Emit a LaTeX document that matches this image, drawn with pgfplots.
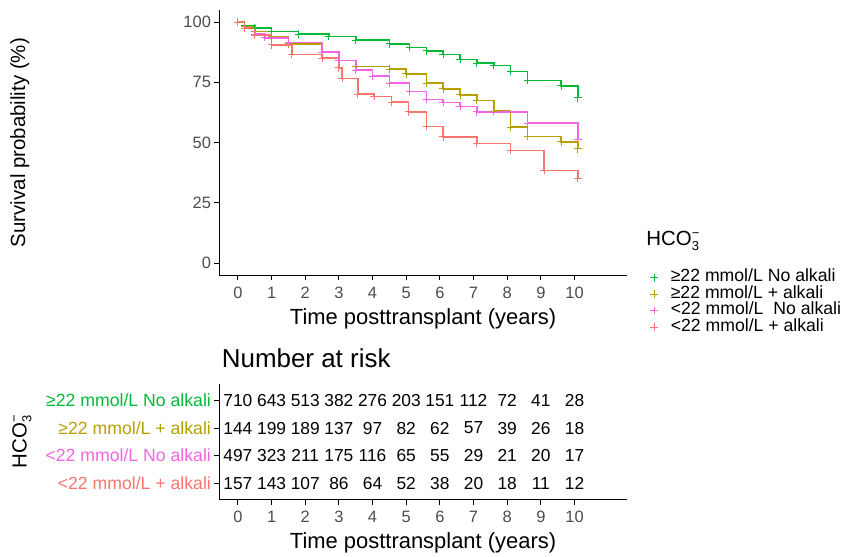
\documentclass[border=0pt]{standalone}
\usepackage{fontspec}
\setmainfont{Liberation Sans}
\usepackage{pgfplots}
\pgfplotsset{compat=1.18}
\usepackage{pgfplotstable}

\definecolor{cG}{HTML}{00BA38}
\definecolor{cO}{HTML}{B79F00}
\definecolor{cP}{HTML}{F564E3}
\definecolor{cR}{HTML}{F8766D}
\definecolor{tickgray}{HTML}{4D4D4D}

% HCO3- with stacked sub/superscript, size given as argument
\newcommand\hco[1]{HCO\makebox[0pt][l]{\raisebox{0.75ex}{\fontsize{#1}{#1}\selectfont −}}\raisebox{-0.45ex}{\fontsize{#1}{#1}\selectfont 3}}

% survival curves: time (years), survival (%)
\pgfplotstableread{
t s
0 100
0.2 98.5
0.5 97.5
1.0 96
1.8 95
2.7 94
3.5 92.5
4.5 91
5.1 89.5
5.6 88
6.1 86.5
6.6 84.5
7.1 83
7.6 82
8.1 79.5
8.6 75.8
9.6 73.5
10.1 68.5
}\tabG

\pgfplotstableread{
t s
0 100
0.2 98
0.5 96
1.0 94
1.5 91
2.5 87.5
3.0 84
3.5 81.5
4.5 80.5
5.0 78.5
5.6 74.7
6.1 72.3
6.6 69.8
7.1 67.5
7.6 63
8.1 56.4
8.6 52.6
9.6 50.3
10.1 47.4
}\tabO

\pgfplotstableread{
t s
0 100
0.2 97.5
0.5 95
0.8 93.5
1.5 91.5
2.5 87.5
3.0 84
3.5 80
4.0 77.5
4.5 74.7
5.1 71.2
5.6 67.8
6.1 66.7
6.6 65
7.1 62.7
8.6 58.1
10.1 51.2
}\tabP

\pgfplotstableread{
t s
0 100
0.2 97.5
0.5 94.5
1.0 90.5
1.6 86.5
2.5 85
3.0 81
3.1 76.5
3.56 70.1
4.05 69.2
4.56 66.8
5.07 62.8
5.6 56.6
6.1 52.4
7.1 49.7
8.1 46.8
9.1 38.5
10.1 35.3
}\tabR

% number at risk: year, row, count
\pgfplotstableread{
x y n
0 4 710
1 4 643
2 4 513
3 4 382
4 4 276
5 4 203
6 4 151
7 4 112
8 4 72
9 4 41
10 4 28
0 3 144
1 3 199
2 3 189
3 3 137
4 3 97
5 3 82
6 3 62
7 3 57
8 3 39
9 3 26
10 3 18
0 2 497
1 2 323
2 2 211
3 2 175
4 2 116
5 2 65
6 2 55
7 2 29
8 2 21
9 2 20
10 2 17
0 1 157
1 1 143
2 1 107
3 1 86
4 1 64
5 1 52
6 1 38
7 1 20
8 1 18
9 1 11
10 1 12
}\risk

\pgfplotsset{
  km/.style={
    scale only axis,
    axis x line*=bottom, axis y line*=left,
    axis line style={-, line width=1.1bp, black},
    tick style={line width=1bp, black},
    tick align=outside, major tick length=5bp,
    ticklabel style={font=\fontsize{16.5bp}{19bp}\selectfont, text=tickgray},
    xticklabel style={yshift=-3bp},
    /pgf/number format/assume math mode=true,
    xlabel style={font=\fontsize{22bp}{25bp}\selectfont, yshift=-3bp},
    ylabel style={font=\fontsize{20.5bp}{24bp}\selectfont},
    xmin=-0.55, xmax=11.55, xtick={0,...,10},
    width=408.4bp,
  },
  curve/.style={const plot, draw=#1, mark=none, line width=1.6bp, forget plot},
  cens/.style={draw=none, mark=+, mark size=3.8bp,
    mark options={draw=#1, line width=1bp, solid}},
}

\begin{document}
\begin{tikzpicture}
\begin{axis}[km,
  at={(220bp,280bp)}, anchor=south west, height=266bp,
  ymin=-5, ymax=105, ytick={0,25,50,75,100},
  xlabel={Time posttransplant (years)},
  ylabel={Survival probability (\%)},
  ylabel style={at={(axis description cs:-0.49,0.5)}, anchor=center},
  legend style={at={(axis description cs:1.05,0.03)}, anchor=north west,
    draw=none, fill=none, font=\fontsize{17.7bp}{18bp}\selectfont,
    nodes={inner sep=1bp, text height=11.5bp, text depth=3bp},
    /tikz/every odd column/.append style={column sep=12bp}},
  legend cell align=left,
  legend image code/.code={\draw[#1] plot coordinates {(0.25cm,0cm)};},
]
\addplot[curve=cG] table {\tabG};
\addplot[curve=cO] table {\tabO};
\addplot[curve=cP] table {\tabP};
\addplot[curve=cR] table {\tabR};
\addplot[cens=cG] table {\tabG};
\addlegendentry{≥22 mmol/L No alkali}
\addplot[cens=cO] table {\tabO};
\addlegendentry{≥22 mmol/L + alkali}
\addplot[cens=cP] table {\tabP};
\addlegendentry{<22 mmol/L\ \ No alkali}
\addplot[cens=cR] table {\tabR};
\addlegendentry{<22 mmol/L + alkali}
\end{axis}

\node[anchor=west, font=\fontsize{20.5bp}{22bp}\selectfont, inner sep=0pt]
  at (648bp,314bp) {\hco{13bp}};

\begin{axis}[km,
  at={(220bp,55bp)}, anchor=south west, height=116bp,
  ymin=0.4, ymax=4.6, ytick={1,2,3,4},
  yticklabels={{\textcolor{cR}{<22 mmol/L + alkali}},
               {\textcolor{cP}{<22 mmol/L No alkali}},
               {\textcolor{cO}{≥22 mmol/L + alkali}},
               {\textcolor{cG}{≥22 mmol/L No alkali}}},
  yticklabel style={font=\fontsize{17.7bp}{19bp}\selectfont},
  xlabel={Time posttransplant (years)},
  ylabel={\hco{13bp}},
  ylabel style={at={(axis description cs:-0.485,0.5)}, anchor=center},
  title={Number at risk},
  title style={at={(axis description cs:0,1)}, anchor=south west,
    font=\fontsize{26bp}{30bp}\selectfont, yshift=7bp, xshift=-1bp},
]
\addplot[draw=none, mark=none, nodes near coords, point meta=explicit symbolic,
  every node near coord/.append style={anchor=center, text=black,
    font=\fontsize{17.4bp}{19bp}\selectfont}]
  table[meta=n] {\risk};
\end{axis}
\path[use as bounding box] (0,0) rectangle (845bp,556bp);
\end{tikzpicture}
\end{document}
